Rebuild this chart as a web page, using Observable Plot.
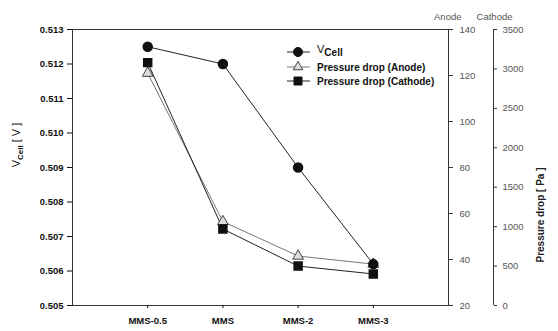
<!DOCTYPE html>
<html><head><meta charset="utf-8">
<script src="https://cdn.jsdelivr.net/npm/d3@7"></script>
<script src="https://cdn.jsdelivr.net/npm/@observablehq/plot@0.6"></script>
<style>body{margin:0;background:#fff}</style>
</head><body><div id="chart"></div>
<script>
const categories = ["MMS-0.5", "MMS", "MMS-2", "MMS-3"];
const vcell = [0.5125, 0.5120, 0.5090, 0.5062];
const anodeDrop = [121, 56.5, 41.5, 38];
const cathodeDrop = [3080, 970, 500, 400];
const vTicks = [0.505, 0.506, 0.507, 0.508, 0.509, 0.510, 0.511, 0.512, 0.513];
const anodeTicks = [20, 40, 60, 80, 100, 120, 140];
const cathodeTicks = [0, 500, 1000, 1500, 2000, 2500, 3000, 3500];
const legendLabels = ["Pressure drop (Anode)", "Pressure drop (Cathode)"];

const V0 = 0.505, V1 = 0.513;
const anodeToV = a => V0 + (a - 20) / 120 * (V1 - V0);
const vToAnode = v => String(Math.round(20 + (v - V0) / (V1 - V0) * 120));
const cathToV = c => V0 + c / 3500 * (V1 - V0);
const vToCath = v => String(Math.round((v - V0) / (V1 - V0) * 3500));

const rows = categories.map((c, i) => ({i, c, v: vcell[i], a: anodeToV(anodeDrop[i]), k: cathToV(cathodeDrop[i])}));
const font = "'Liberation Sans', Arial, sans-serif";

const svg = Plot.plot({
  width: 558, height: 331,
  marginLeft: 72, marginTop: 29, marginBottom: 26, marginRight: 110,
  x: {domain: [-1, 4], axis: null},
  y: {domain: [V0, V1], axis: null},
  style: {fontFamily: font, background: "white", color: "#111"},
  marks: [
    Plot.frame({stroke: "#333", strokeWidth: 1}),
    Plot.axisY(vTicks, {anchor: "left", tickSize: 5, tickPadding: 4, tickFormat: d => d.toFixed(3), fontWeight: "bold", fontSize: 9.5, label: null}),
    Plot.axisX(categories.map((_, i) => i), {anchor: "bottom", tickSize: 3, tickPadding: 9, tickFormat: i => categories[i], fontWeight: "bold", fontSize: 9.5, label: null}),
    Plot.axisY(anodeTicks.map(anodeToV), {anchor: "right", tickSize: 4, tickPadding: 7, tickFormat: vToAnode, fontSize: 9.5, fill: "#555", stroke: "#333", label: null}),
    Plot.axisY(cathodeTicks.map(cathToV), {anchor: "right", dx: 45, tickSize: 3, tickPadding: 6, tickFormat: vToCath, fontSize: 9.5, fill: "#555", stroke: "#333", label: null}),
    Plot.ruleX([4], {dx: 45, stroke: "#333"}),
    Plot.text(["Anode"], {frameAnchor: "top-right", dx: 13, dy: -16, fontSize: 9.5, fill: "#555"}),
    Plot.text(["Cathode"], {frameAnchor: "top-right", dx: 64, dy: -16, fontSize: 9.5, fill: "#555"}),
    Plot.text(["Pressure drop [ Pa ]"], {frameAnchor: "right", dx: 92, rotate: -90, fontSize: 10, fontWeight: "bold", fill: "#222"}),
    Plot.line(rows, {x: "i", y: "a", stroke: "#777", strokeWidth: 1}),
    Plot.line(rows, {x: "i", y: "k", stroke: "#222", strokeWidth: 1}),
    Plot.line(rows, {x: "i", y: "v", stroke: "#222", strokeWidth: 1}),
    Plot.dot(rows, {x: "i", y: "a", symbol: "triangle", r: 4, fill: "#ddd", stroke: "#444", strokeWidth: 1}),
    Plot.dot(rows, {x: "i", y: "k", symbol: "square", r: 4.5, fill: "#111", stroke: "#111"}),
    Plot.dot(rows, {x: "i", y: "v", symbol: "circle", r: 4.5, fill: "#111", stroke: "#111"})
  ]
});

const s = d3.select(svg);
// left axis label with subscript
const yl = s.append("text").attr("transform", "translate(20,145) rotate(-90)")
  .attr("text-anchor", "middle").attr("font-size", 11).attr("font-family", font).attr("fill", "#222");
yl.append("tspan").text("V");
yl.append("tspan").attr("font-size", 8).attr("font-weight", "bold").attr("dy", 3).text("Cell");
yl.append("tspan").attr("dy", -3).text(" [ V ]");

// legend
const lg = s.append("g").attr("font-family", font).attr("font-size", 10).attr("font-weight", "bold")
  .attr("fill", "#111").attr("text-anchor", "start");
const ly = [52, 67, 81];
const sym = [d3.symbolCircle, d3.symbolTriangle, d3.symbolSquare];
const fills = ["#111", "#ddd", "#111"];
const strokes = ["#222", "#777", "#222"];
ly.forEach((y, j) => {
  lg.append("line").attr("x1", 287).attr("x2", 310).attr("y1", y).attr("y2", y).attr("stroke", strokes[j]);
  lg.append("path").attr("d", d3.symbol(sym[j], j === 1 ? 40 : 64)()).attr("transform", `translate(298,${y})`)
    .attr("fill", fills[j]).attr("stroke", j === 1 ? "#444" : "#111");
});
const t0 = lg.append("text").attr("x", 317).attr("y", ly[0]).attr("dy", "0.1em");
t0.append("tspan").attr("font-weight", "normal").attr("font-size", 11).text("V");
t0.append("tspan").attr("dy", 3).text("Cell");
legendLabels.forEach((t, j) => lg.append("text").attr("x", 317).attr("y", ly[j + 1]).attr("dy", "0.35em").text(t));

document.getElementById("chart").appendChild(svg);
</script>
</body></html>
